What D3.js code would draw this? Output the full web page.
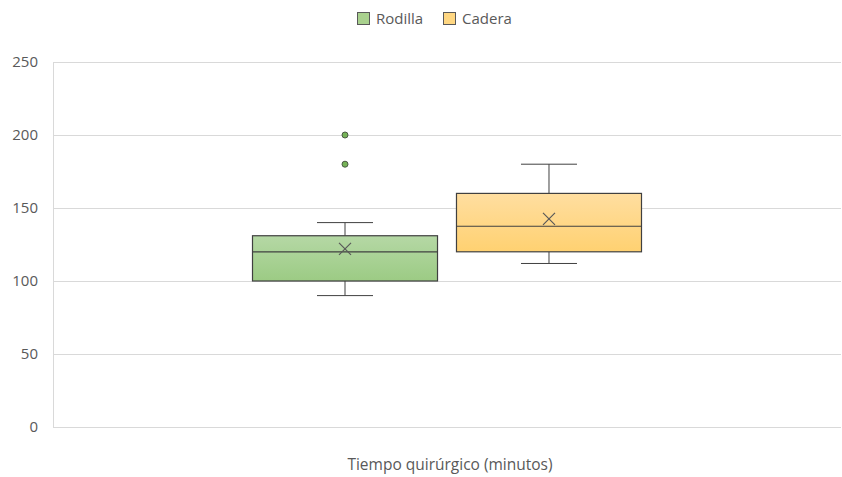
<!DOCTYPE html>
<html>
<head>
<meta charset="utf-8">
<script src="https://cdn.jsdelivr.net/npm/d3@7"></script>
<style>
  html, body { margin: 0; padding: 0; background: #fff; }
  svg { display: block; font-family: "Open Sans", "Liberation Sans", sans-serif; }
</style>
</head>
<body>
<svg id="chart" width="842" height="477"></svg>
<script>
// Surgical time (minutes) by procedure
const category = "Tiempo quirúrgico (minutos)";
const seriesNames = ["Rodilla", "Cadera"];
// five-number summaries: min whisker, Q1, median, Q3, max whisker
const whiskerLow = [90, 112];
const q1 = [100, 120];
const median = [120, 137.5];
const q3 = [131, 160];
const whiskerHigh = [140, 180];
const mean = [122, 142.5];
const outliers = [[180, 200], []];
const yTicks = [0, 50, 100, 150, 200, 250];

const fillTop = ["#b5d8a5", "#ffdea0"];
const fillBottom = ["#9ccb84", "#ffd171"];
const dotFill = ["#75b356", "#ffc000"];

const svg = d3.select("#chart");
const margin = { left: 53, right: 1, top: 62, bottom: 50 };
const W = 842, H = 477;

const y = d3.scaleLinear().domain([0, 250]).range([H - margin.bottom, margin.top]);
const x0 = d3.scaleBand().domain([category]).range([margin.left, W - margin.right]);
const x1 = d3.scaleBand().domain(seriesNames).range([0, x0.bandwidth()])
  .paddingInner(0.093).paddingOuter(0.978);

// gradients
const defs = svg.append("defs");
seriesNames.forEach((s, i) => {
  const g = defs.append("linearGradient").attr("id", "grad" + i)
    .attr("x1", 0).attr("y1", 0).attr("x2", 0).attr("y2", 1);
  g.append("stop").attr("offset", "0%").attr("stop-color", fillTop[i]);
  g.append("stop").attr("offset", "100%").attr("stop-color", fillBottom[i]);
});

// gridlines
svg.append("g").selectAll("line").data(yTicks).join("line")
  .attr("x1", margin.left).attr("x2", W - margin.right)
  .attr("y1", d => Math.round(y(d)) + 0.5).attr("y2", d => Math.round(y(d)) + 0.5)
  .attr("stroke", "#d9d9d9").attr("stroke-width", 1);

// left axis line
svg.append("line")
  .attr("x1", margin.left + 0.5).attr("x2", margin.left + 0.5)
  .attr("y1", y(250)).attr("y2", y(0))
  .attr("stroke", "#d9d9d9");

// y axis labels
const yAxis = d3.axisLeft(y).tickValues(yTicks).tickSize(0).tickPadding(15);
const ya = svg.append("g").attr("transform", `translate(${margin.left},0)`).call(yAxis);
ya.select(".domain").remove();
ya.selectAll("text").attr("fill", "#595959").style("font-size", "15px")
  .style("font-family", '"Open Sans", sans-serif');

// x axis label (category)
svg.append("text")
  .attr("x", x0(category) + x0.bandwidth() / 2 + 3).attr("y", 470)
  .attr("text-anchor", "middle").attr("fill", "#595959").style("font-size", "15.5px")
  .text(category);

// boxes
const stroke = "#404040";
seriesNames.forEach((s, i) => {
  const bx = x0(category) + x1(s);
  const bw = x1.bandwidth();
  const cx = bx + bw / 2;
  const g = svg.append("g");
  const capW = 56;
  // whiskers
  g.append("line").attr("x1", cx).attr("x2", cx).attr("y1", y(whiskerHigh[i])).attr("y2", y(q3[i]))
    .attr("stroke", stroke);
  g.append("line").attr("x1", cx).attr("x2", cx).attr("y1", y(q1[i])).attr("y2", y(whiskerLow[i]))
    .attr("stroke", stroke);
  g.append("line").attr("x1", cx - capW / 2).attr("x2", cx + capW / 2)
    .attr("y1", y(whiskerHigh[i])).attr("y2", y(whiskerHigh[i])).attr("stroke", stroke);
  g.append("line").attr("x1", cx - capW / 2).attr("x2", cx + capW / 2)
    .attr("y1", y(whiskerLow[i])).attr("y2", y(whiskerLow[i])).attr("stroke", stroke);
  // box
  g.append("rect").attr("x", bx).attr("y", y(q3[i]))
    .attr("width", bw).attr("height", y(q1[i]) - y(q3[i]))
    .attr("fill", `url(#grad${i})`).attr("stroke", stroke).attr("stroke-width", 1.2);
  // median
  g.append("line").attr("x1", bx).attr("x2", bx + bw)
    .attr("y1", y(median[i])).attr("y2", y(median[i])).attr("stroke", stroke).attr("stroke-width", 1.2);
  // mean marker
  const m = 6, my = y(mean[i]);
  g.append("path").attr("d", `M${cx - m},${my - m}L${cx + m},${my + m}M${cx - m},${my + m}L${cx + m},${my - m}`)
    .attr("stroke", "#595959").attr("stroke-width", 1.2).attr("fill", "none");
  // outliers
  g.selectAll("circle").data(outliers[i]).join("circle")
    .attr("cx", cx).attr("cy", d => y(d)).attr("r", 3)
    .attr("fill", dotFill[i]).attr("stroke", "#4a5a44").attr("stroke-width", 1);
});

// legend
const legend = svg.append("g").attr("transform", "translate(357,12)");
const legendX = [0, 86];
seriesNames.forEach((s, i) => {
  const lg = legend.append("g").attr("transform", `translate(${legendX[i]},0)`);
  lg.append("rect").attr("x", 0.5).attr("y", 0.5).attr("width", 12).attr("height", 12)
    .attr("fill", i === 0 ? "#a9d18e" : "#ffd782").attr("stroke", "#595959");
  lg.append("text").attr("x", 19).attr("y", 12).attr("fill", "#595959")
    .style("font-size", "15px").text(s);
});
</script>
</body>
</html>
